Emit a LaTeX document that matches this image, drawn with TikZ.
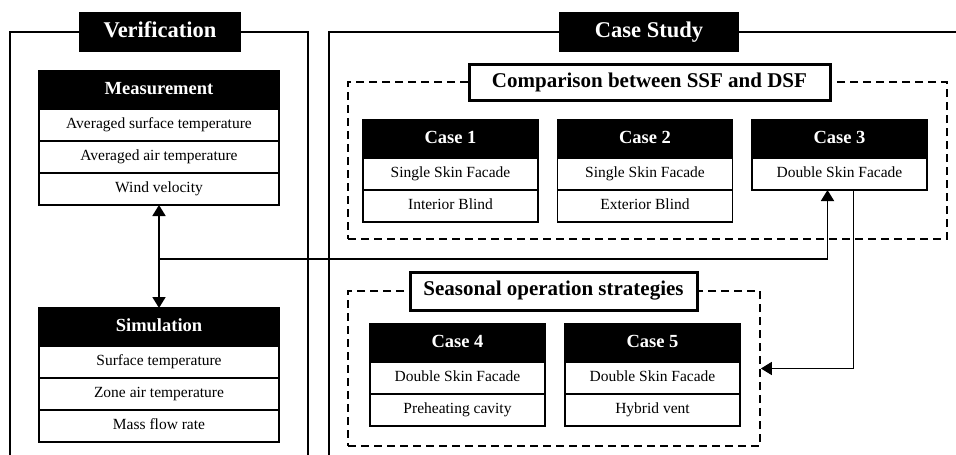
\documentclass[tikz,border=0pt]{standalone}
\usepackage{fontspec}
\setmainfont{Liberation Serif}
\usetikzlibrary{positioning,arrows.meta}

\tikzset{
  head/.style={draw,fill=black,text=white,inner sep=0,outer sep=0,
               font=\bfseries\fontsize{18.5}{20}\selectfont,minimum height=38,
               text height=12.5pt,text depth=3pt},
  cell/.style={draw,fill=white,inner sep=0,outer sep=0,
               font=\fontsize{15.5}{17}\selectfont,minimum height=32,
               text height=10.5pt,text depth=3pt},
  wide/.style={minimum width=240},
  narrow/.style={minimum width=175},
  frametitle/.style={fill=black,text=white,inner sep=0,
               font=\bfseries\fontsize{22.5}{24}\selectfont,minimum height=40,
               text height=15pt,text depth=4.5pt},
  grouptitle/.style={draw,line width=3pt,fill=white,inner sep=0,
               font=\bfseries\fontsize{21}{23}\selectfont,minimum height=36,
               text height=14pt,text depth=4.5pt},
  groupbox/.style={draw,dash pattern=on 8pt off 5pt,inner sep=0}
}

\begin{document}
\begin{tikzpicture}[x=1pt,y=-1pt,line width=1.8pt,
                    >={Triangle[width=13pt,length=11pt]}]
  \useasboundingbox (0,0) rectangle (956,455);

  % outer frames
  \draw (10,460) |- (308,32) -- (308,460);
  \draw (329,460) |- (962,32);
  \node[frametitle,minimum width=162] (ver) at (160,32) {Verification};
  \node[frametitle,minimum width=180] (cs)  at (649,32) {Case Study};

  % verification side
  \node[head,wide] (mh) at (159,90) {Measurement};
  \node[cell,wide] (m1) [below=0pt of mh] {Averaged surface temperature};
  \node[cell,wide] (m2) [below=0pt of m1] {Averaged air temperature};
  \node[cell,wide] (m3) [below=0pt of m2] {Wind velocity};

  \node[head,wide] (sh) at (159,327) {Simulation};
  \node[cell,wide] (s1) [below=0pt of sh] {Surface temperature};
  \node[cell,wide] (s2) [below=0pt of s1] {Zone air temperature};
  \node[cell,wide] (s3) [below=0pt of s2] {Mass flow rate};

  % case study side
  \node[groupbox,minimum width=599,minimum height=157] (cmp) at (647.5,160.5) {};
  \node[grouptitle,minimum width=361] (cmpt) at (649.5,82.5) {Comparison between SSF and DSF};

  \node[head,narrow] (c1h) at (450.5,139) {Case 1};
  \node[cell,narrow] (c1a) [below=0pt of c1h] {Single Skin Facade};
  \node[cell,narrow] (c1b) [below=0pt of c1a] {Interior Blind};
  \node[head,narrow] (c2h) at (645,139) {Case 2};
  \node[cell,narrow] (c2a) [below=0pt of c2h] {Single Skin Facade};
  \node[cell,narrow] (c2b) [below=0pt of c2a] {Exterior Blind};
  \node[head,narrow] (c3h) at (839.5,139) {Case 3};
  \node[cell,narrow] (c3a) [below=0pt of c3h] {Double Skin Facade};

  \node[groupbox,minimum width=412,minimum height=155] (sea) at (554,368.5) {};
  \node[grouptitle,minimum width=287,minimum height=38] (seat) at (553.5,291) {Seasonal operation strategies};

  \node[head,narrow] (c4h) at (457.5,343) {Case 4};
  \node[cell,narrow] (c4a) [below=0pt of c4h] {Double Skin Facade};
  \node[cell,narrow] (c4b) [below=0pt of c4a] {Preheating cavity};
  \node[head,narrow] (c5h) at (652.5,343) {Case 5};
  \node[cell,narrow] (c5a) [below=0pt of c5h] {Double Skin Facade};
  \node[cell,narrow] (c5b) [below=0pt of c5a] {Hybrid vent};

  % connectors
  \coordinate (jn) at (159,259);
  \draw[<->] (m3) -- (sh);
  \draw[->] (jn) -| ([xshift=-12pt]c3a.south);
  \draw[->] ([xshift=14pt]c3a.south) |- (sea.east);
\end{tikzpicture}
\end{document}
